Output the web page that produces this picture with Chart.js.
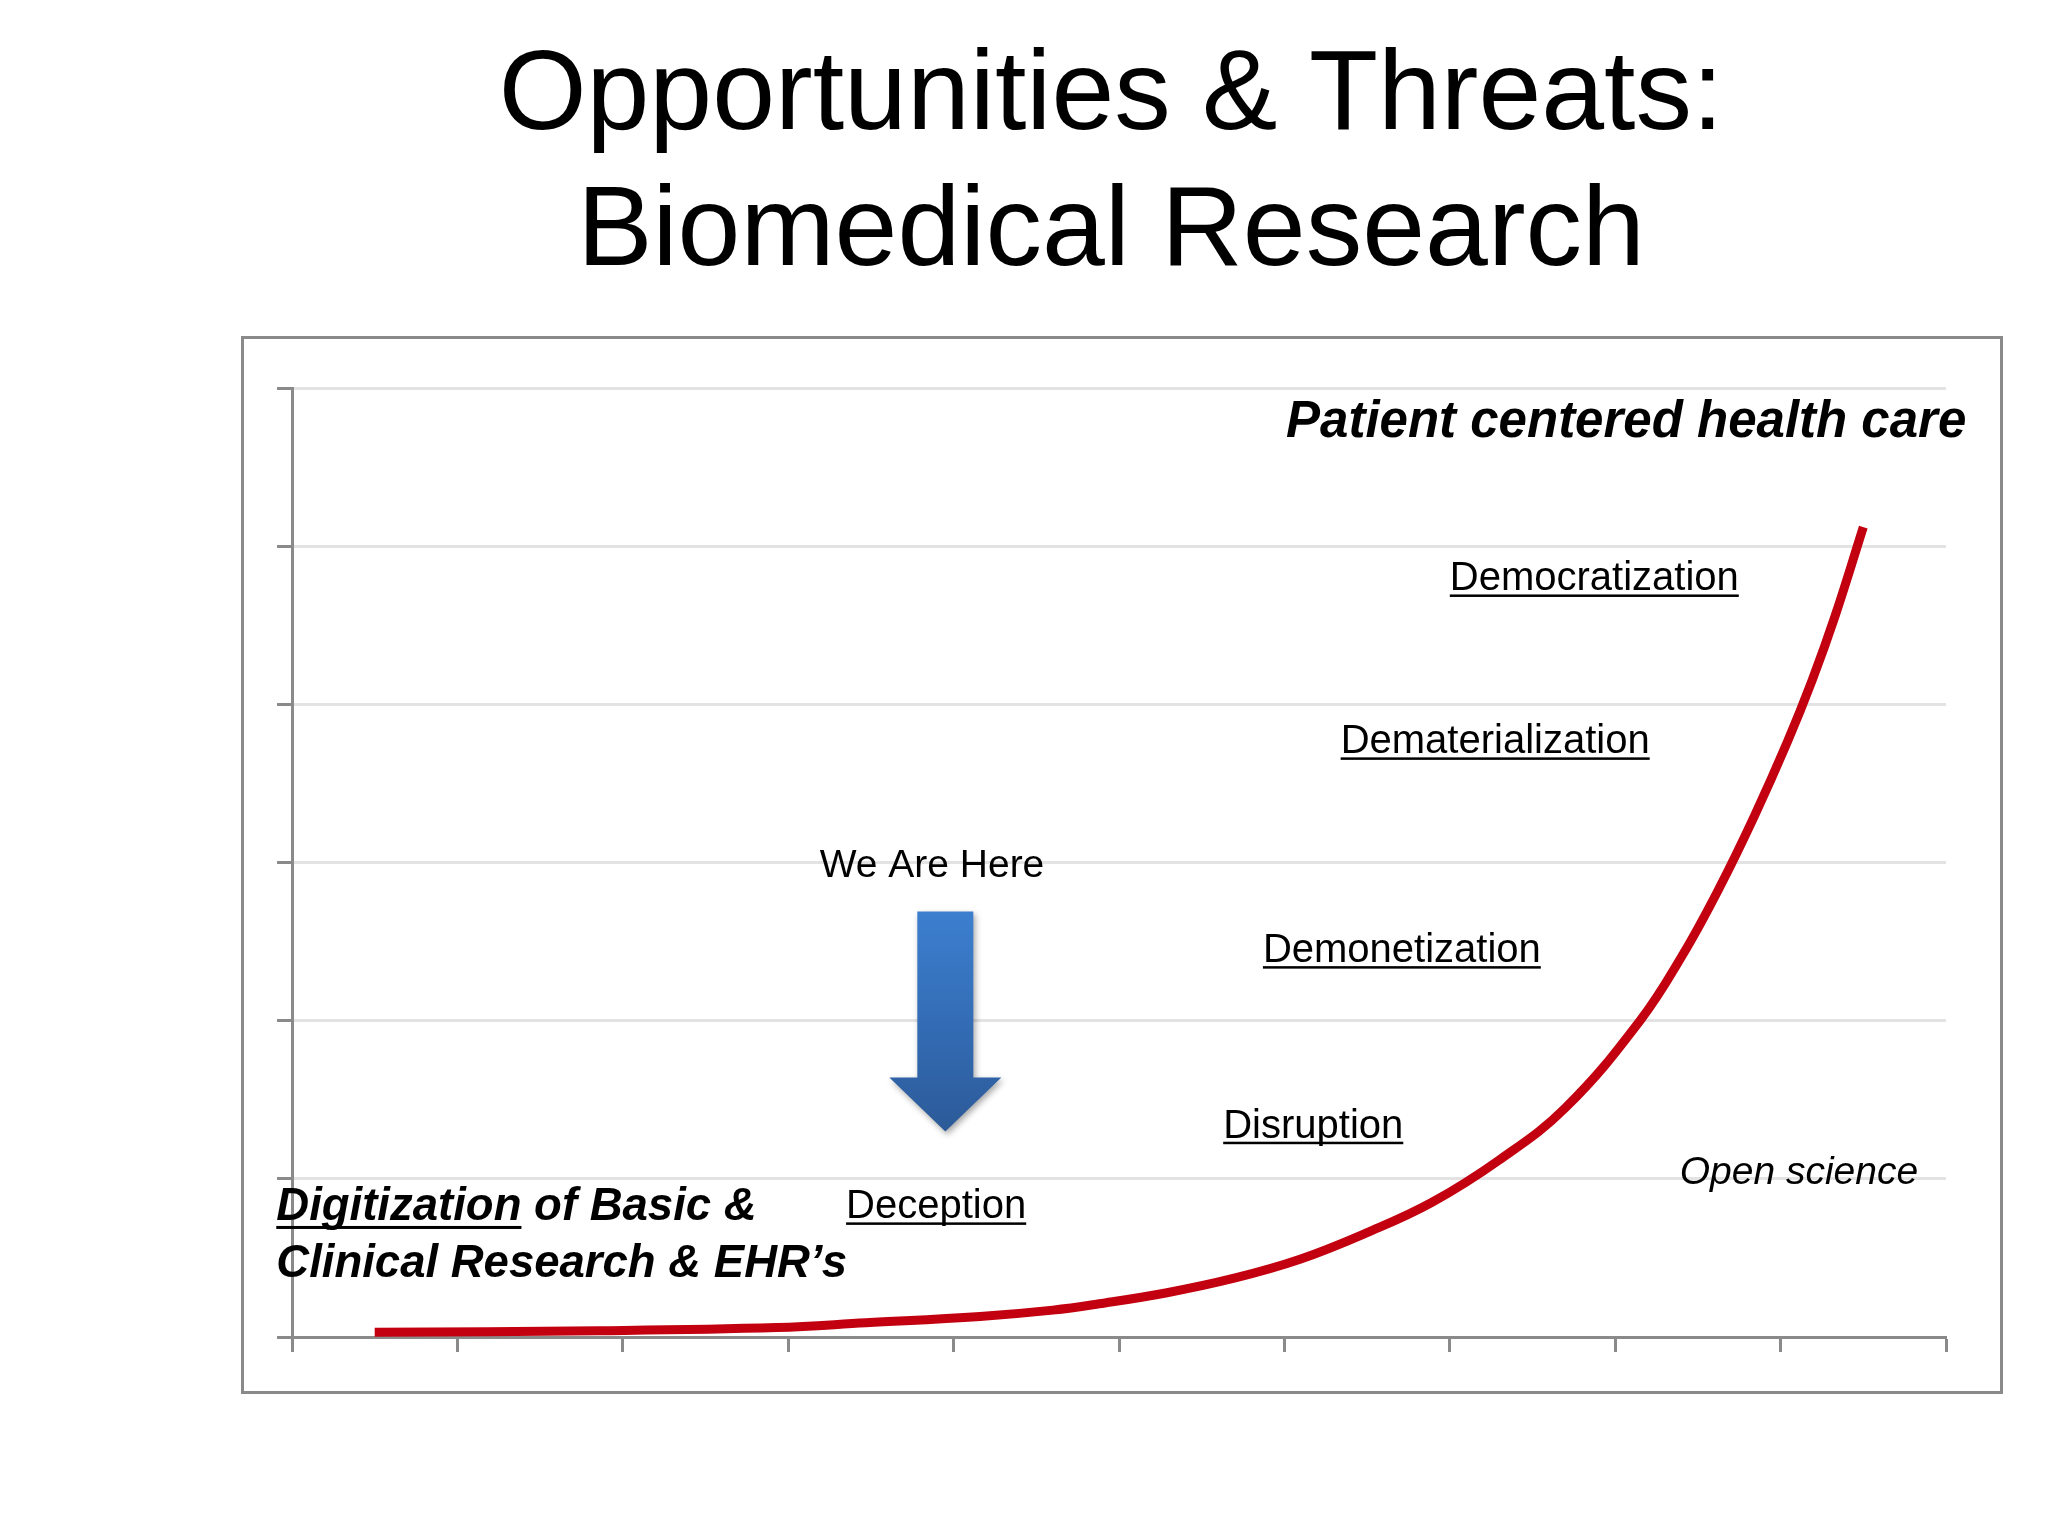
<!DOCTYPE html>
<html>
<head>
<meta charset="utf-8">
<script src="https://cdn.jsdelivr.net/npm/chart.js@4.4.1/dist/chart.umd.min.js"></script>
<style>
  html, body { margin: 0; padding: 0; background: #ffffff; }
  #wrap { width: 2048px; height: 1536px; position: relative; }
</style>
</head>
<body>
<div id="wrap"><canvas id="c" width="2048" height="1536"></canvas></div>
<script>
// ---- Data ----
const titleLines = ['Opportunities & Threats:', 'Biomedical Research'];

// Curve (x in axis units 0..10, y in gridline units 0..6)
const xValues = [0.50, 1.86, 2.93, 3.47, 4.16, 4.60, 4.88, 5.29, 5.69, 6.09, 6.50, 6.89, 7.30, 7.70, 8.15, 8.41, 8.63, 8.84, 9.04, 9.19, 9.33, 9.50];
const yValues = [0.03, 0.04, 0.06, 0.09, 0.13, 0.17, 0.21, 0.28, 0.37, 0.49, 0.66, 0.85, 1.12, 1.45, 2.00, 2.42, 2.84, 3.29, 3.76, 4.15, 4.56, 5.12];

const xTicks = [0, 1, 2, 3, 4, 5, 6, 7, 8, 9, 10];
const yTicks = [0, 1, 2, 3, 4, 5, 6];

// Stage labels (underlined) along the curve
const stageLabels = ['Deception', 'Disruption', 'Demonetization', 'Dematerialization', 'Democratization'];
const stageX = [3.35, 5.63, 5.87, 6.34, 7.00];
const stageY = [0.75, 1.26, 2.37, 3.69, 4.72];

const hereLabel = 'We Are Here';
const topLabel = 'Patient centered health care';
const openLabel = 'Open science';
const baseLine1a = 'Digitization';
const baseLine1b = ' of Basic &';
const baseLine2 = 'Clinical Research & EHR\u2019s';

// ---- Chart ----
const FONT = '"Liberation Sans", Arial, Helvetica, sans-serif';
const AXIS = '#8a8a8a';
const GRID = '#e3e3e3';

const points = xValues.map((x, i) => ({ x: x, y: yValues[i] }));

function underlineText(ctx, text, x, y, thick, off) {
  ctx.fillText(text, x, y);
  const w = ctx.measureText(text).width;
  ctx.fillRect(x, y + off, w, thick);
  return w;
}

const decor = {
  id: 'decor',
  beforeDraw(chart) {
    const ctx = chart.ctx;
    ctx.save();
    ctx.fillStyle = '#ffffff';
    ctx.fillRect(0, 0, chart.width, chart.height);
    // slide frame
    ctx.strokeStyle = AXIS;
    ctx.lineWidth = 3;
    ctx.strokeRect(242.5, 337.5, 1759, 1055);
    ctx.restore();
  },
  afterDatasetsDraw(chart) {
    const ctx = chart.ctx;
    const xs = chart.scales.x, ys = chart.scales.y;
    const px = v => xs.getPixelForValue(v);
    const py = v => ys.getPixelForValue(v);
    ctx.save();
    ctx.fillStyle = '#000000';
    ctx.textBaseline = 'alphabetic';

    // Title
    ctx.textAlign = 'center';
    ctx.font = '113px ' + FONT;
    ctx.fillText(titleLines[0], 1111, 129);
    ctx.fillText(titleLines[1], 1111, 265);

    ctx.textAlign = 'left';
    // Top label
    ctx.font = 'italic bold 51px ' + FONT;
    ctx.fillText(topLabel, px(6.01), py(5.69));

    // Stage labels
    ctx.font = '40px ' + FONT;
    stageLabels.forEach((t, i) => underlineText(ctx, t, px(stageX[i]), py(stageY[i]), 2.5, 4));

    // We Are Here
    ctx.font = '39px ' + FONT;
    ctx.fillText(hereLabel, px(3.19), py(2.91));

    // Open science
    ctx.font = 'italic 39px ' + FONT;
    ctx.fillText(openLabel, px(8.39), py(0.97));

    // Baseline label
    ctx.font = 'italic bold 45.5px ' + FONT;
    const bx = px(-0.095);
    const w1 = underlineText(ctx, baseLine1a, bx, py(0.74), 3, 6);
    ctx.fillText(baseLine1b, bx + w1, py(0.74));
    ctx.fillText(baseLine2, bx, py(0.38));

    // Arrow
    const cx = px(3.95);
    const top = py(2.69), neck = py(1.64), tip = py(1.30);
    const sh = 28, hh = 56;
    const g = ctx.createLinearGradient(0, top, 0, tip);
    g.addColorStop(0, '#3c7fcf');
    g.addColorStop(0.6, '#3269b0');
    g.addColorStop(1, '#2c5a98');
    ctx.shadowColor = 'rgba(0,0,0,0.35)';
    ctx.shadowBlur = 6;
    ctx.shadowOffsetX = 2;
    ctx.shadowOffsetY = 3;
    ctx.fillStyle = g;
    ctx.beginPath();
    ctx.moveTo(cx - sh, top);
    ctx.lineTo(cx + sh, top);
    ctx.lineTo(cx + sh, neck);
    ctx.lineTo(cx + hh, neck);
    ctx.lineTo(cx, tip);
    ctx.lineTo(cx - hh, neck);
    ctx.lineTo(cx - sh, neck);
    ctx.closePath();
    ctx.fill();
    ctx.restore();
  }
};

new Chart(document.getElementById('c'), {
  type: 'line',
  data: {
    datasets: [{
      data: points,
      borderColor: '#c2000f',
      borderWidth: 9,
      borderCapStyle: 'butt',
      borderJoinStyle: 'round',
      pointRadius: 0,
      fill: false,
      tension: 0.4
    }]
  },
  options: {
    responsive: false,
    animation: false,
    devicePixelRatio: 1,
    events: [],
    layout: { padding: { left: 277, right: 102, top: 388, bottom: 184 } },
    plugins: { legend: { display: false }, tooltip: { enabled: false }, title: { display: false } },
    scales: {
      x: {
        type: 'linear',
        min: xTicks[0],
        max: xTicks[xTicks.length - 1],
        afterBuildTicks: s => { s.ticks = xTicks.map(v => ({ value: v })); },
        ticks: { display: false },
        grid: { drawOnChartArea: false, drawTicks: true, tickLength: 15, tickColor: AXIS, tickWidth: 3 },
        border: { display: true, color: AXIS, width: 3 },
        afterFit: s => { s.height = 15; }
      },
      y: {
        type: 'linear',
        min: yTicks[0],
        max: yTicks[yTicks.length - 1],
        afterBuildTicks: s => { s.ticks = yTicks.map(v => ({ value: v })); },
        ticks: { display: false },
        grid: {
          color: c => (c.tick && c.tick.value === 0) ? AXIS : GRID,
          lineWidth: 3, drawTicks: true, tickLength: 15, tickColor: AXIS, tickWidth: 3
        },
        border: { display: true, color: AXIS, width: 3 },
        afterFit: s => { s.width = 15; }
      }
    }
  },
  plugins: [decor]
});
</script>
</body>
</html>
